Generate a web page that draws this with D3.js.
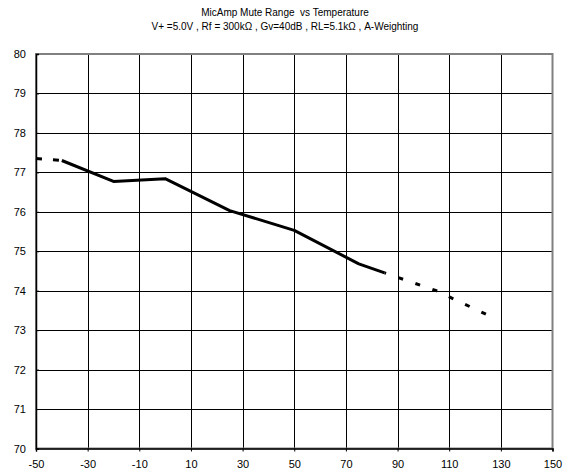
<!DOCTYPE html>
<html>
<head>
<meta charset="utf-8">
<script src="https://cdn.jsdelivr.net/npm/d3@7/dist/d3.min.js"></script>
<style>
  html, body { margin: 0; padding: 0; background: #fff; }
  svg { display: block; font-family: "Liberation Sans", Arial, sans-serif; }
  text.title { white-space: pre; }
</style>
</head>
<body>
<svg id="chart" width="571" height="474"></svg>
<script>
// Mute range (dB) versus ambient temperature (°C)
const measuredTemps = [-40, -20, 0, 25, 50, 75, 85];
const measuredRange = [77.30, 76.77, 76.84, 76.03, 75.53, 74.68, 74.45];
const lowExtTemps = [-50, -40];
const lowExtRange = [77.35, 77.30];
const highExtTemps = [85, 105, 125];
const highExtRange = [74.45, 74.00, 73.38];
const xTicks = [-50, -30, -10, 10, 30, 50, 70, 90, 110, 130, 150];
const yTicks = [70, 71, 72, 73, 74, 75, 76, 77, 78, 79, 80];
const titleLines = [
  "MicAmp Mute Range  vs Temperature",
  "V+ =5.0V , Rf = 300k\u03A9 , Gv=40dB , RL=5.1k\u03A9 , A-Weighting"
];

const svg = d3.select("#chart");
const plotL = 36, plotR = 552.5, plotT = 54, plotB = 448.5;

const x = d3.scaleLinear().domain([-50, 150]).range([plotL, plotR]);
const y = d3.scaleLinear().domain([70, 80]).range([plotB, plotT]);

// Titles
svg.selectAll("text.title").data(titleLines).join("text")
  .attr("class", "title")
  .attr("x", 285).attr("y", (d, i) => 16 + i * 14)
  .attr("text-anchor", "middle")
  .attr("font-size", 10)
  .attr("fill", "#000")
  .text(d => d);

// Grid lines
const grid = svg.append("g").attr("shape-rendering", "crispEdges");
grid.selectAll("line.v").data(xTicks.slice(1, -1)).join("line")
  .attr("class", "v")
  .attr("x1", d => Math.round(x(d)) + 0.5).attr("x2", d => Math.round(x(d)) + 0.5)
  .attr("y1", plotT).attr("y2", plotB)
  .attr("stroke", "#000").attr("stroke-width", 1);
grid.selectAll("line.h").data(yTicks.slice(1, -1)).join("line")
  .attr("class", "h")
  .attr("y1", d => Math.round(y(d)) + 0.5).attr("y2", d => Math.round(y(d)) + 0.5)
  .attr("x1", plotL).attr("x2", plotR)
  .attr("stroke", "#000").attr("stroke-width", 1);

// Plot frame
svg.append("rect")
  .attr("x", plotL).attr("y", plotT)
  .attr("width", plotR - plotL).attr("height", plotB - plotT)
  .attr("fill", "none").attr("stroke", "#808080").attr("stroke-width", 2);

// Axes
const yAxis = svg.append("g")
  .attr("transform", `translate(${plotL},0)`)
  .call(d3.axisLeft(y).tickValues(yTicks).tickFormat(d3.format("d")).tickSize(-3).tickPadding(10));
const xAxis = svg.append("g")
  .attr("transform", `translate(0,${plotB})`)
  .call(d3.axisBottom(x).tickValues(xTicks).tickFormat(d => d).tickSize(3).tickPadding(9));

[yAxis, xAxis].forEach(g => {
  g.select(".domain").attr("stroke", "#000").attr("stroke-width", 1.5);
  g.selectAll(".tick line").attr("stroke", "#000");
  g.selectAll(".tick text")
    .attr("font-family", "Liberation Sans, Arial, sans-serif")
    .attr("font-size", 11).attr("fill", "#000");
});
xAxis.selectAll(".tick text").text(d => d < 0 ? "-" + Math.abs(d) : d);

// Series
const line = d3.line().x(d => x(d[0])).y(d => y(d[1]));
const zip = (a, b) => a.map((v, i) => [v, b[i]]);

svg.append("path")
  .datum(zip(measuredTemps, measuredRange))
  .attr("d", line)
  .attr("fill", "none").attr("stroke", "#000")
  .attr("stroke-width", 3).attr("stroke-linejoin", "round");

svg.append("path")
  .datum(zip(lowExtTemps, lowExtRange))
  .attr("d", line)
  .attr("fill", "none").attr("stroke", "#000")
  .attr("stroke-width", 3).attr("stroke-dasharray", "6,11");

svg.append("path")
  .datum(zip(highExtTemps, highExtRange))
  .attr("d", line)
  .attr("fill", "none").attr("stroke", "#000")
  .attr("stroke-width", 3).attr("stroke-dasharray", "5,13")
  .attr("stroke-dashoffset", -14.5);
</script>
</body>
</html>
